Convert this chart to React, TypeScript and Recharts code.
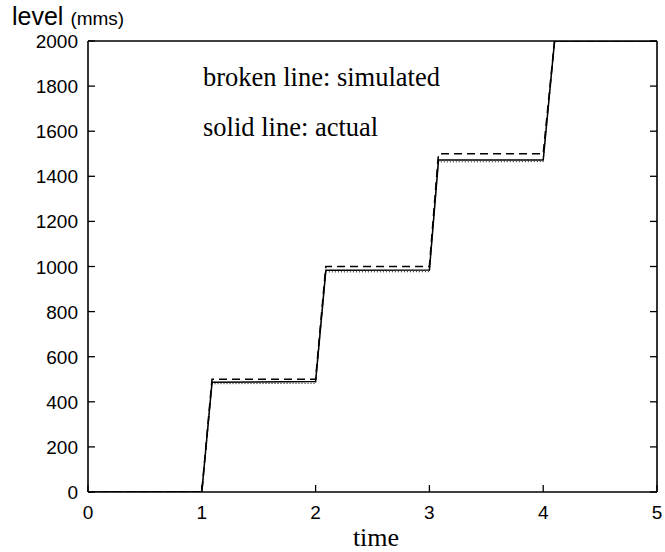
import React from "react";
import { LineChart, Line, XAxis, YAxis } from "recharts";

// time (x) and level in mms (y)
const actualTime = [0, 1.0, 1.09, 2.0, 2.09, 3.0, 3.08, 4.0, 4.1, 5.0];
const actualLevel = [0, 0, 487, 490, 983, 984, 1472, 1472, 2000, 2000];

const simTime = [0, 1.0, 1.09, 2.0, 2.09, 3.0, 3.08, 4.0, 4.1, 5.0];
const simLevel = [0, 0, 500, 500, 1000, 1000, 1500, 1500, 2000, 2000];

const refTime = [0, 1.0, 1.09, 2.0, 2.09, 3.0, 3.08, 4.0, 4.1, 5.0];
const refLevel = [0, 0, 480, 482, 976, 977, 1464, 1465, 2000, 2000];

const xTicks = [0, 1, 2, 3, 4, 5];
const xTicksTop = [1, 2, 3, 4];
const yTicks = [0, 200, 400, 600, 800, 1000, 1200, 1400, 1600, 1800, 2000];

const toPoints = (ts: number[], vs: number[]) => ts.map((t, i) => ({ t, v: vs[i] }));

const actual = toPoints(actualTime, actualLevel);
const simulated = toPoints(simTime, simLevel);
const reference = toPoints(refTime, refLevel);

const TICK = 7;
const sans = "'Liberation Sans', Arial, sans-serif";
const serif = "'Liberation Serif', 'Times New Roman', serif";

const BottomTick = (props: any) => {
  const { x, y, payload } = props;
  return (
    <g>
      <line x1={x} y1={y} x2={x} y2={y - TICK} stroke="#000" strokeWidth={1.3} />
      <text x={x} y={y + 27} textAnchor="middle" fontFamily={sans} fontSize={19} fill="#000">
        {payload.value}
      </text>
    </g>
  );
};

const TopTick = (props: any) => {
  const { x, y } = props;
  return <line x1={x} y1={y} x2={x} y2={y + TICK} stroke="#000" strokeWidth={1.3} />;
};

const LeftTick = (props: any) => {
  const { x, y, payload } = props;
  return (
    <g>
      <line x1={x} y1={y} x2={x + TICK} y2={y} stroke="#000" strokeWidth={1.3} />
      <text x={x - 10} y={y + 7} textAnchor="end" fontFamily={sans} fontSize={19} fill="#000">
        {payload.value}
      </text>
    </g>
  );
};

const RightTick = (props: any) => {
  const { x, y } = props;
  return <line x1={x - TICK} y1={y} x2={x} y2={y} stroke="#000" strokeWidth={1.3} />;
};

const axisLine = { stroke: "#000", strokeWidth: 1.6 };

export default function App() {
  return (
    <div style={{ position: "absolute", left: 0, top: 0, width: 665, height: 552, background: "#fff" }}>
      <LineChart width={665} height={552} margin={{ top: 40, right: 7, bottom: 0, left: 0 }}>
        <XAxis
          xAxisId="b"
          dataKey="t"
          type="number"
          domain={[0, 5]}
          ticks={xTicks}
          orientation="bottom"
          height={60}
          axisLine={axisLine}
          tickLine={false}
          tickSize={0}
          tickMargin={0}
          tick={<BottomTick />}
          interval={0}
          allowDataOverflow
        />
        <XAxis
          xAxisId="top"
          type="number"
          domain={[0, 5]}
          ticks={xTicksTop}
          orientation="top"
          height={1}
          axisLine={axisLine}
          tickLine={false}
          tickSize={0}
          tickMargin={0}
          tick={<TopTick />}
          interval={0}
          allowDataOverflow
        />
        <YAxis
          yAxisId="l"
          type="number"
          domain={[0, 2000]}
          ticks={yTicks}
          width={88}
          axisLine={axisLine}
          tickLine={false}
          tickSize={0}
          tickMargin={0}
          tick={<LeftTick />}
          interval={0}
          allowDataOverflow
        />
        <YAxis
          yAxisId="r"
          orientation="right"
          type="number"
          domain={[0, 2000]}
          ticks={yTicks}
          width={1}
          axisLine={axisLine}
          tickLine={false}
          tickSize={0}
          tickMargin={0}
          tick={<RightTick />}
          interval={0}
          allowDataOverflow
        />
        <Line
          xAxisId="b"
          yAxisId="l"
          data={reference}
          dataKey="v"
          type="linear"
          stroke="#000"
          strokeWidth={1}
          strokeDasharray="1 2"
          dot={false}
          isAnimationActive={false}
        />
        <Line
          xAxisId="b"
          yAxisId="l"
          data={simulated}
          dataKey="v"
          type="linear"
          stroke="#000"
          strokeWidth={1.6}
          strokeDasharray="8 5"
          dot={false}
          isAnimationActive={false}
        />
        <Line
          xAxisId="b"
          yAxisId="l"
          data={actual}
          dataKey="v"
          type="linear"
          stroke="#000"
          strokeWidth={1.5}
          dot={false}
          isAnimationActive={false}
        />
      </LineChart>
      <svg
        width={665}
        height={552}
        style={{ position: "absolute", left: 0, top: 0, pointerEvents: "none" }}
      >
        <text x={12} y={25} fontFamily={sans} fill="#000">
          <tspan fontSize={25}>level </tspan>
          <tspan fontSize={19}>(mms)</tspan>
        </text>
        <text x={203} y={86} fontFamily={serif} fontSize={26.5} fill="#000">
          broken line: simulated
        </text>
        <text x={203} y={136} fontFamily={serif} fontSize={26.5} fill="#000">
          solid line: actual
        </text>
        <text x={376} y={546} textAnchor="middle" fontFamily={serif} fontSize={26} fill="#000">
          time
        </text>
      </svg>
    </div>
  );
}
